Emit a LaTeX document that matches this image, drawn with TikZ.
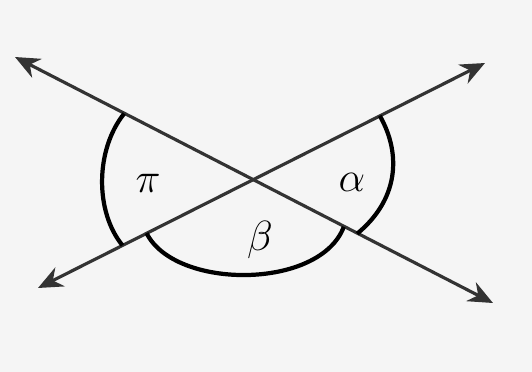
\documentclass[tikz,border=0pt]{standalone}
\usepackage{amsmath,amssymb}
\usepackage{tikz}
\usepackage{xcolor}
\usetikzlibrary{arrows.meta,calc}

\begin{document}
\begin{tikzpicture}[x=0.01cm,y=-0.01cm,
  ray/.style={draw=black!80,line width=0.9pt,{Stealth[length=7pt,width=6pt]}-{Stealth[length=7pt,width=6pt]}},
  arcmark/.style={draw=black,line width=1.2pt}]
  \fill[black!4] (0,0) rectangle (532,372); \useasboundingbox (0,0) rectangle (532,372);
  \coordinate (A1) at (15,57); \coordinate (A2) at (493,303); \coordinate (B1) at (38,288); \coordinate (B2) at (485,63);
  \coordinate (X) at (252,180);
  \draw[ray] (A1) -- (A2); \draw[ray] (B1) -- (B2);
  \coordinate (p1) at ($(X)!1.44cm!(A1)$); \coordinate (p2) at ($(X)!1.45cm!(B1)$);
  \coordinate (a1) at ($(X)!1.43cm!(B2)$); \coordinate (a2) at ($(X)!1.18cm!(A2)$);
  \coordinate (b1) at ($(X)!1.18cm!(B1)$); \coordinate (b2) at ($(X)!1.03cm!(A2)$);
  \draw[arcmark] (p1) .. controls (95,150) and (95,212) .. (p2);
  \draw[arcmark] (a1) .. controls (402,155) and (398,200) .. (a2);
  \draw[arcmark] (b1) .. controls (175,290) and (320,290) .. (b2);
  \node (pi) at (148,183) {\large $\pi$}; \node (alpha) at (352,182) {\large $\alpha$}; \node (beta) at (260,240) {\large $\beta$};
\end{tikzpicture}
\end{document}
